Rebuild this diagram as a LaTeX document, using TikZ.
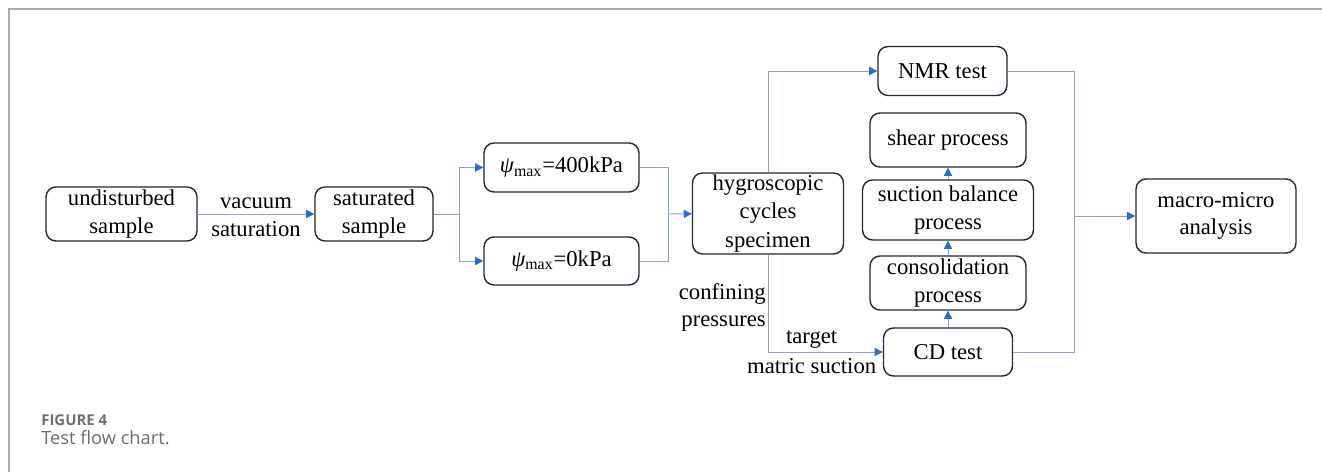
\documentclass[tikz,border=0pt]{standalone}
\usepackage{fontspec}
\setmainfont{Liberation Serif}
\newfontfamily\capfont{Open Sans}
\usetikzlibrary{arrows.meta,positioning}
\definecolor{boxline}{RGB}{30,40,55}
\definecolor{linkline}{RGB}{135,165,200}
\definecolor{tipblue}{RGB}{35,110,210}
\definecolor{framegrey}{RGB}{170,170,170}
\definecolor{capgrey}{RGB}{110,110,110}
\tikzset{
  box/.style={draw=boxline, line width=0.8pt, rounded corners=0.2cm, align=center,
    inner sep=0pt, font=\fontsize{12.9}{15.6}\selectfont},
  link/.style={draw=linkline, line width=0.55pt},
  arr/.style={link, -{Triangle[length=4.6pt,width=4.6pt,color=tipblue]}},
  lbl/.style={font=\fontsize{12.9}{15.6}\selectfont, inner sep=1pt}
}
\begin{document}
\begin{tikzpicture}[x=0.02cm, y=-0.02cm]
  \useasboundingbox (0,0) rectangle (1322,472);
  \draw[framegrey, line width=1pt] (9,472) -- (9,9) -- (1322,9);

  \node[box, minimum width=3.02cm, minimum height=1.08cm] (undist) at (121.5,214) {undisturbed\\sample};
  \node[box, minimum width=2.36cm, minimum height=1.08cm] (sat) at (374,214) {saturated\\sample};
  \node[box, minimum width=3.10cm, minimum height=0.98cm] (psihi) at (561.5,167.5) {{\itshape ψ}\textsubscript{max}=400kPa};
  \node[box, minimum width=3.10cm, minimum height=0.96cm] (psilo) at (561.5,261) {{\itshape ψ}\textsubscript{max}=0kPa};
  \node[box, minimum width=3.02cm, minimum height=1.62cm, font=\fontsize{12.9}{16}\selectfont] (hygro) at (768,213.5) {hygroscopic\\cycles\\specimen};
  \node[box, minimum width=2.58cm, minimum height=0.98cm] (nmr) at (942.5,71) {NMR test};
  \node[box, minimum width=3.12cm, minimum height=1.08cm] (shear) at (948,140) {shear process};
  \node[box, minimum width=3.42cm, minimum height=1.20cm] (suction) at (948,210) {suction balance\\process};
  \node[box, minimum width=3.12cm, minimum height=1.08cm] (consol) at (948,283) {consolidation\\process};
  \node[box, minimum width=2.58cm, minimum height=0.96cm] (cd) at (948,352) {CD test};
  \node[box, minimum width=3.20cm, minimum height=1.48cm] (macro) at (1216,216) {macro-micro\\analysis};

  \coordinate (split) at (459,214);
  \coordinate (merge) at (668,214);
  \coordinate (join) at (1074,216);

  \draw[arr] (undist) -- node[lbl, above=1.5pt] {vacuum} node[lbl, below=3pt] {saturation} (sat);
  \draw[link] (sat) -- (split);
  \draw[arr] (split) |- (psihi);
  \draw[arr] (split) |- (psilo);
  \draw[link] (psihi) -| (merge);
  \draw[link] (psilo) -| (merge);
  \draw[arr] (merge) -- (hygro);
  \draw[arr] (hygro.north) |- (nmr);
  \draw[arr] (hygro.south) |- node[lbl, pos=0.27, left, align=right] {confining\\pressures}
    node[lbl, pos=0.69, above=0.5pt] {target} node[lbl, pos=0.69, below=2.5pt] {matric suction} (cd);
  \draw[arr] (cd) -- (consol);
  \draw[arr] (consol) -- (suction);
  \draw[arr] (suction) -- (shear);
  \draw[link] (nmr) -| (join);
  \draw[link] (cd) -| (join);
  \draw[arr] (join) -- (macro);

  \node[anchor=west, inner sep=0pt, text=capgrey, font=\capfont\bfseries\fontsize{8.5}{10}\selectfont] (fig) at (41,420) {FIGURE 4};
  \node[anchor=west, inner sep=0pt, text=capgrey, font=\capfont\fontsize{10.4}{12}\selectfont] (cap) at (41,438) {Test flow chart.};
\end{tikzpicture}
\end{document}
